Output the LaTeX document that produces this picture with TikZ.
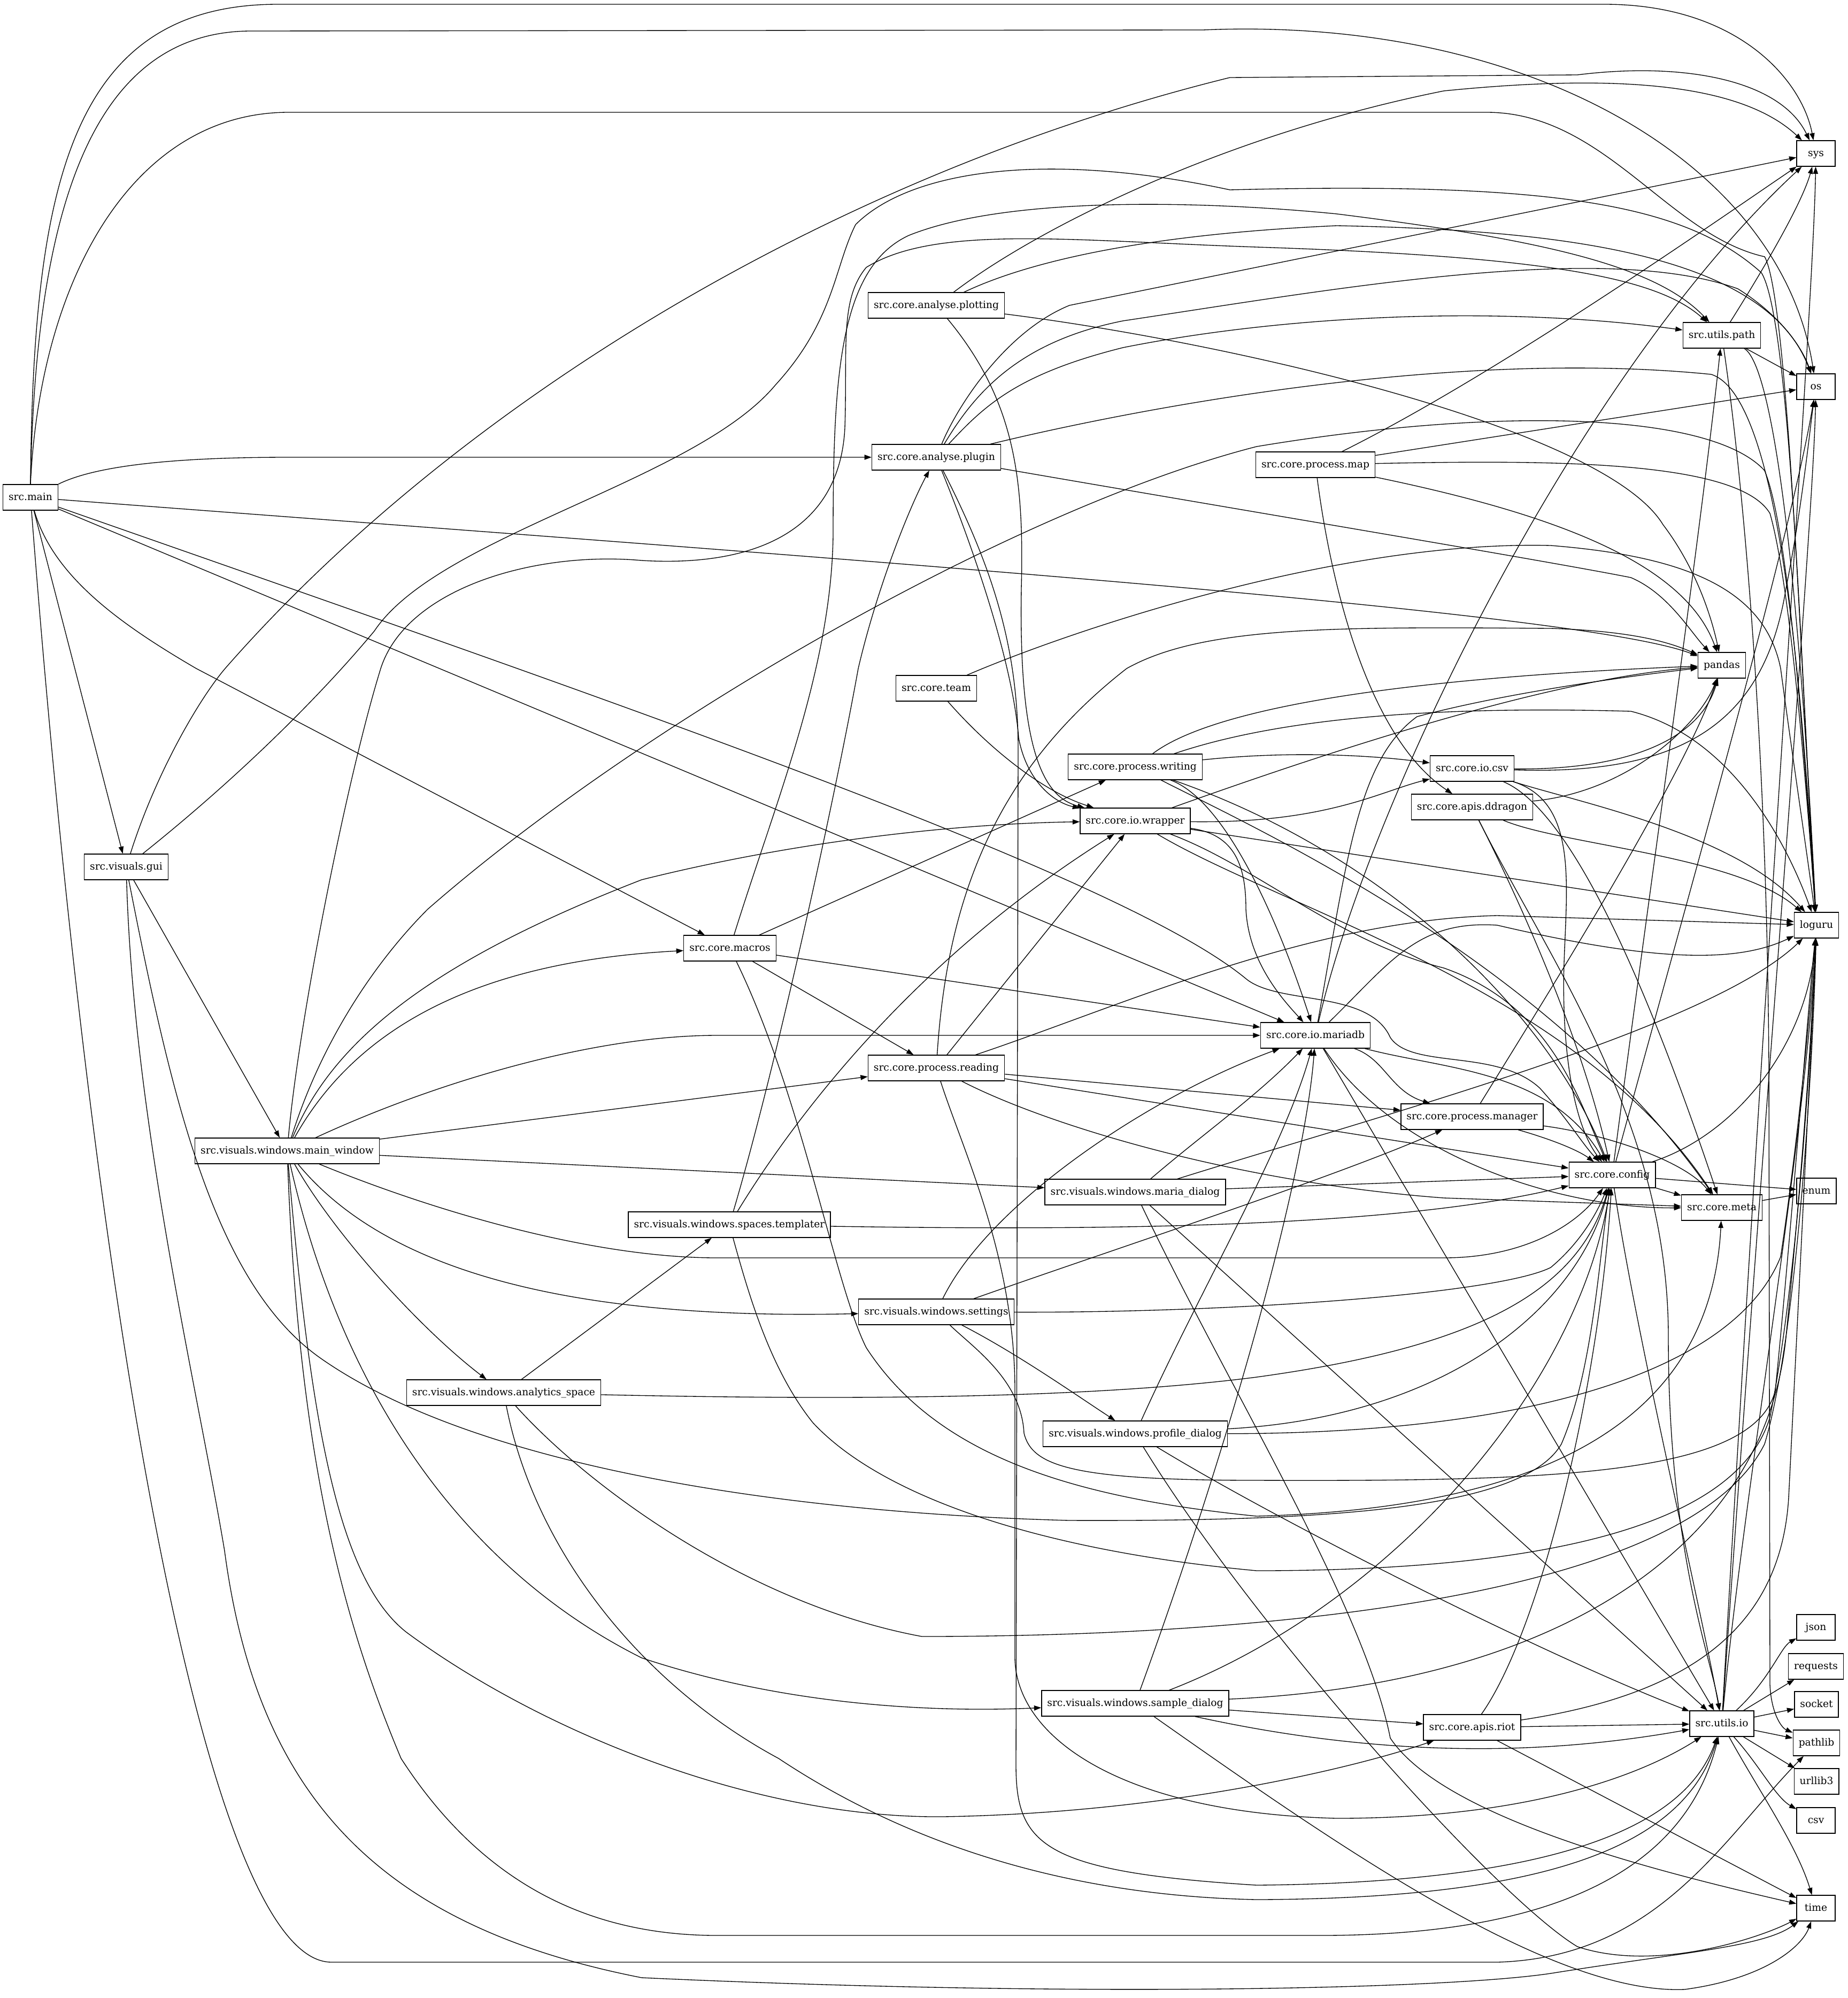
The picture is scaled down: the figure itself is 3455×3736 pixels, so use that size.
\documentclass[tikz,border=0pt]{standalone}
\usepackage{fontspec}
\setmainfont{DejaVu Serif}
\usetikzlibrary{arrows.meta}
\begin{document}
\begin{tikzpicture}[x=0.75pt,y=-0.75pt,
  mod/.style={draw, line width=1pt, rectangle, minimum height=36pt, minimum width=54pt,
    inner xsep=7.9pt, inner ysep=2pt, font=\fontsize{14pt}{17pt}\selectfont,
    text height=10.5pt, text depth=3pt},
  dep/.style={line width=1pt, -{Triangle[length=10pt,width=7pt]}}]
\fill[white] (0,0) rectangle (3455,3736);
\useasboundingbox (0,0) rectangle (3455,3736);
% nodes
\node[mod] (main) at (57,930) {src.main};
\node[mod] (gui) at (236,1621) {src.visuals.gui};
\node[mod] (mainwin) at (537,2152) {src.visuals.windows.main\_window};
\node[mod] (analytics) at (942,2604) {src.visuals.windows.analytics\_space};
\node[mod] (macros) at (1365,1773) {src.core.macros};
\node[mod] (templater) at (1364,2290) {src.visuals.windows.spaces.templater};
\node[mod] (plotting) at (1751,571) {src.core.analyse.plotting};
\node[mod] (plugin) at (1751,855) {src.core.analyse.plugin};
\node[mod] (team) at (1751,1287) {src.core.team};
\node[mod] (reading) at (1751,1997) {src.core.process.reading};
\node[mod] (settings) at (1751,2453) {src.visuals.windows.settings};
\node[mod] (writing) at (2123,1434) {src.core.process.writing};
\node[mod] (wrapper) at (2123,1535) {src.core.io.wrapper};
\node[mod] (maria) at (2123,2229) {src.visuals.windows.maria\_dialog};
\node[mod] (profile) at (2123,2681) {src.visuals.windows.profile\_dialog};
\node[mod] (sample) at (2123,3185) {src.visuals.windows.sample\_dialog};
\node[mod] (pmap) at (2460,869) {src.core.process.map};
\node[mod] (mariadb) at (2460,1936) {src.core.io.mariadb};
\node[mod] (iocsv) at (2753,1437) {src.core.io.csv};
\node[mod] (ddragon) at (2753,1509) {src.core.apis.ddragon};
\node[mod] (manager) at (2753,2088) {src.core.process.manager};
\node[mod] (riot) at (2753,3230) {src.core.apis.riot};
\node[mod] (config) at (3015,2197) {src.core.config};
\node[mod] (upath) at (3220,627) {src.utils.path};
\node[mod] (pandas) at (3220,1244) {pandas};
\node[mod] (meta) at (3220,2258) {src.core.meta};
\node[mod] (uio) at (3220,3223) {src.utils.io};
\node[mod] (sys) at (3396,287) {sys};
\node[mod] (os) at (3396,723) {os};
\node[mod] (loguru) at (3397,1730) {loguru};
\node[mod] (enum) at (3397,2227) {enum};
\node[mod] (json) at (3396,3043) {json};
\node[mod] (requests) at (3396,3116) {requests};
\node[mod] (socket) at (3397,3187) {socket};
\node[mod] (pathlib) at (3397,3259) {pathlib};
\node[mod] (urllib) at (3397,3331) {urllib3};
\node[mod] (csvmod) at (3396,3404) {csv};
\node[mod] (time) at (3396,3568) {time};
% src.main
\draw[dep] (main.north) .. controls (62,350) and (130,8) .. (520,8) -- (3000,8) .. controls (3250,8) and (3370,150) .. (sys);
\draw[dep] (main.north) .. controls (66,420) and (160,58) .. (470,58) -- (2250,56) .. controls (2850,30) and (3330,300) .. (os);
\draw[dep] (main.north) .. controls (75,520) and (250,210) .. (540,210) -- (2780,210) .. controls (3000,210) and (3120,440) .. (3300,480) .. controls (3345,560) and (3370,1300) .. (loguru);
\draw[dep] (main.north east) .. controls (180,870) and (330,855) .. (540,855) -- (plugin);
\draw[dep] (main) .. controls (1500,1040) and (2950,1140) .. (pandas);
\draw[dep] (main) -- (mariadb);
\draw[dep] (main) .. controls (1200,1330) and (2100,1640) .. (2330,1830) .. controls (2390,1880) and (2560,1850) .. (2600,1940) .. controls (2640,2000) and (2800,1960) .. (2880,2035) .. controls (2930,2090) and (2960,2140) .. (config);
\draw[dep] (main) .. controls (100,1080) and (230,1170) .. (367,1250) -- (macros);
\draw[dep] (main) -- (gui);
\draw[dep] (main) .. controls (170,2400) and (380,3669) .. (620,3669) -- (2800,3669) .. controls (3100,3660) and (3220,3440) .. (pathlib);
% gui
\draw[dep] (gui) .. controls (290,1450) and (370,1310) .. (421,1250) .. controls (850,760) and (1550,330) .. (2300,145) -- (2950,140) .. controls (3150,115) and (3330,150) .. (sys);
\draw[dep] (gui) .. controls (450,1450) and (600,1300) .. (700,1180) .. controls (820,1000) and (1300,900) .. (1450,720) .. controls (1560,600) and (1560,500) .. (1600,420) .. controls (1700,320) and (1950,280) .. (2300,355) .. controls (2900,340) and (3150,380) .. (3294,510) .. controls (3350,600) and (3370,1300) .. (loguru);
\draw[dep] (gui) -- (mainwin);
\draw[dep] (gui) .. controls (250,2100) and (370,2600) .. (420,2900) .. controls (480,3350) and (700,3600) .. (1200,3698) .. controls (2000,3735) and (2700,3720) .. (2900,3690) .. controls (3150,3650) and (3300,3640) .. (time);
\draw[dep] (gui) .. controls (320,2050) and (400,2400) .. (600,2540) .. controls (900,2750) and (1500,2830) .. (2000,2843) .. controls (2500,2845) and (2850,2820) .. (2920,2700) .. controls (2980,2560) and (2990,2350) .. (config);
% main_window
\draw[dep] (mainwin) .. controls (560,1900) and (650,1450) .. (712,1250) .. controls (760,1100) and (1000,1030) .. (1200,1048) .. controls (1400,1060) and (1570,1000) .. (1580,800) .. controls (1585,650) and (1570,560) .. (1620,500) .. controls (1750,420) and (2000,450) .. (2350,462) .. controls (2900,480) and (3100,520) .. (upath);
\draw[dep] (mainwin) .. controls (600,1950) and (700,1800) .. (800,1700) .. controls (1200,1350) and (1900,950) .. (2350,835) .. controls (2800,760) and (3200,770) .. (3300,880) .. controls (3350,1000) and (3380,1500) .. (loguru);
\draw[dep] (mainwin) .. controls (620,1950) and (800,1800) .. (1200,1645) .. controls (1500,1570) and (1800,1540) .. (wrapper);
\draw[dep] (mainwin) .. controls (650,1950) and (850,1800) .. (macros);
\draw[dep] (mainwin) .. controls (800,2030) and (1100,1936) .. (1341,1936) -- (mariadb);
\draw[dep] (mainwin) -- (reading);
\draw[dep] (mainwin) -- (maria);
\draw[dep] (mainwin) .. controls (800,2260) and (1100,2352) .. (1341,2352) -- (2700,2352) .. controls (2850,2352) and (2950,2290) .. (config);
\draw[dep] (mainwin) .. controls (700,2350) and (1000,2470) .. (settings);
\draw[dep] (mainwin) .. controls (620,2300) and (780,2480) .. (analytics);
\draw[dep] (mainwin) .. controls (650,2650) and (900,2950) .. (1200,3100) .. controls (1500,3200) and (1800,3200) .. (sample);
\draw[dep] (mainwin) .. controls (580,2650) and (630,2950) .. (760,3052) .. controls (1000,3230) and (1400,3400) .. (1762,3397) .. controls (2200,3390) and (2550,3300) .. (riot);
\draw[dep] (mainwin) .. controls (560,2750) and (650,3050) .. (750,3288) .. controls (900,3520) and (1100,3619) .. (1341,3619) -- (2469,3619) .. controls (2900,3619) and (3150,3500) .. (uio);
% analytics_space
\draw[dep] (analytics) -- (templater);
\draw[dep] (analytics) .. controls (1500,2616) and (2000,2620) .. (2350,2575) .. controls (2750,2520) and (2950,2420) .. (config);
\draw[dep] (analytics) .. controls (1100,2780) and (1400,3000) .. (1724,3060) .. controls (2300,3060) and (3150,3000) .. (3300,2700) .. controls (3360,2500) and (3390,2000) .. (loguru);
\draw[dep] (analytics) .. controls (1000,2900) and (1200,3150) .. (1456,3288) .. controls (1700,3450) and (2000,3545) .. (2350,3552) .. controls (2900,3550) and (3150,3450) .. (uio);
% templater
\draw[dep] (templater) .. controls (1450,2000) and (1560,1500) .. (1605,1250) .. controls (1640,1100) and (1700,950) .. (plugin);
\draw[dep] (templater) .. controls (1480,2100) and (1700,1800) .. (wrapper);
\draw[dep] (templater) .. controls (2000,2300) and (2600,2300) .. (config);
\draw[dep] (templater) .. controls (1400,2420) and (1440,2560) .. (1520,2660) .. controls (1650,2800) and (1950,2900) .. (2350,2937) .. controls (2900,2937) and (3250,2850) .. (3310,2650) .. controls (3360,2400) and (3385,2000) .. (loguru);
% macros
\draw[dep] (macros) .. controls (1450,1500) and (1555,1250) .. (1558,1000) .. controls (1558,700) and (1570,500) .. (1700,440) .. controls (1900,360) and (2300,380) .. (2500,400) .. controls (2900,450) and (3100,500) .. (upath);
\draw[dep] (macros) -- (writing);
\draw[dep] (macros) -- (reading);
\draw[dep] (macros) -- (mariadb);
\draw[dep] (macros) .. controls (1500,2050) and (1560,2400) .. (1620,2520) .. controls (1750,2720) and (2000,2800) .. (2350,2835) .. controls (2900,2820) and (3200,2650) .. (meta);
% plotting
\draw[dep] (plotting) .. controls (1950,420) and (2300,250) .. (2700,170) .. controls (3000,140) and (3250,150) .. (sys);
\draw[dep] (plotting) .. controls (1900,500) and (2100,440) .. (2500,422) .. controls (2900,430) and (3300,470) .. (os);
\draw[dep] (plotting) .. controls (2300,640) and (3000,800) .. (3110,981) .. controls (3170,1060) and (3200,1150) .. (pandas);
\draw[dep] (plotting) .. controls (1900,750) and (1915,900) .. (1910,1100) .. controls (1905,1400) and (1950,1490) .. (wrapper);
% plugin
\draw[dep] (plugin) .. controls (1790,760) and (1880,620) .. (2000,571) -- (sys);
\draw[dep] (plugin) .. controls (1820,740) and (1900,640) .. (2100,600) .. controls (2500,540) and (3000,450) .. (3250,540) .. controls (3330,590) and (3370,650) .. (os);
\draw[dep] (plugin) .. controls (1840,760) and (1900,700) .. (2100,650) .. controls (2400,590) and (2800,570) .. (upath);
\draw[dep] (plugin) .. controls (2100,770) and (2700,650) .. (3200,700) .. controls (3330,740) and (3370,1300) .. (loguru);
\draw[dep] (plugin) .. controls (2300,950) and (2900,1050) .. (3050,1080) .. controls (3120,1110) and (3160,1180) .. (pandas);
\draw[dep] (plugin) .. controls (1830,1050) and (1895,1250) .. (1905,1380) .. controls (1920,1460) and (1970,1500) .. (wrapper);
\draw[dep] (plugin) .. controls (1850,1050) and (1904,1200) .. (1904,1400) -- (1900,3300) .. controls (1900,3450) and (1950,3500) .. (2350,3525) .. controls (2900,3520) and (3150,3420) .. (uio);
% team
\draw[dep] (team) .. controls (1850,1400) and (1950,1480) .. (wrapper);
\draw[dep] (team) .. controls (2000,1180) and (2500,1010) .. (2900,1020) .. controls (3150,1040) and (3300,1100) .. (3330,1250) .. controls (3350,1400) and (3380,1600) .. (loguru);
% reading
\draw[dep] (reading) .. controls (1770,1700) and (1850,1450) .. (2107,1250) .. controls (2250,1170) and (2500,1172) .. (2900,1175) .. controls (3050,1180) and (3120,1200) .. (pandas);
\draw[dep] (reading) -- (wrapper);
\draw[dep] (reading) .. controls (2100,1880) and (2450,1720) .. (2800,1712) -- (loguru);
\draw[dep] (reading) -- (manager);
\draw[dep] (reading) -- (config);
\draw[dep] (reading) .. controls (1950,2100) and (2300,2210) .. (2700,2240) -- (meta);
\draw[dep] (reading) .. controls (1800,2150) and (1898,2350) .. (1898,2600) -- (1898,3100) .. controls (1900,3250) and (2100,3390) .. (2500,3400) .. controls (2900,3400) and (3100,3300) .. (uio);
% settings
\draw[dep] (settings) .. controls (1850,2250) and (2150,2050) .. (mariadb);
\draw[dep] (settings) .. controls (2100,2330) and (2500,2200) .. (manager);
\draw[dep] (settings) .. controls (2300,2455) and (2800,2420) .. (2900,2370) .. controls (2960,2320) and (2990,2260) .. (config);
\draw[dep] (settings) .. controls (1900,2530) and (2000,2600) .. (profile);
\draw[dep] (settings) .. controls (1820,2520) and (1910,2580) .. (1915,2680) .. controls (1930,2740) and (2000,2768) .. (2350,2768) .. controls (2900,2770) and (3280,2760) .. (3320,2600) .. controls (3350,2300) and (3380,1900) .. (loguru);
% writing
\draw[dep] (writing) .. controls (2400,1405) and (2550,1410) .. (iocsv);
\draw[dep] (writing) .. controls (2300,1300) and (2800,1260) .. (pandas);
\draw[dep] (writing) .. controls (2400,1340) and (2700,1320) .. (3050,1330) .. controls (3250,1380) and (3350,1600) .. (loguru);
\draw[dep] (writing) .. controls (2300,1500) and (2400,1750) .. (mariadb);
\draw[dep] (writing) .. controls (2600,1600) and (2900,1900) .. (config);
\draw[dep] (writing) .. controls (2350,1550) and (2900,1800) .. (meta);
% wrapper
\draw[dep] (wrapper) .. controls (2500,1400) and (2900,1270) .. (pandas);
\draw[dep] (wrapper) .. controls (2480,1540) and (2580,1480) .. (iocsv);
\draw[dep] (wrapper) -- (loguru);
\draw[dep] (wrapper) .. controls (2310,1560) and (2330,1620) .. (2330,1700) .. controls (2335,1800) and (2400,1870) .. (mariadb);
\draw[dep] (wrapper) .. controls (2350,1620) and (2500,1760) .. (2700,1810) .. controls (2900,1880) and (2950,2050) .. (config);
\draw[dep] (wrapper) .. controls (2400,1700) and (2950,1850) .. (meta);
% process.map
\draw[dep] (pmap) .. controls (2800,700) and (3200,420) .. (sys);
\draw[dep] (pmap) -- (os);
\draw[dep] (pmap) .. controls (2900,860) and (3250,860) .. (3310,960) .. controls (3350,1100) and (3380,1500) .. (loguru);
\draw[dep] (pmap) .. controls (2900,960) and (3150,1050) .. (pandas);
\draw[dep] (pmap) .. controls (2490,1100) and (2560,1380) .. (ddragon);
% mariadb
\draw[dep] (mariadb) .. controls (2560,1500) and (2950,700) .. (sys);
\draw[dep] (mariadb) .. controls (2520,1600) and (2540,1420) .. (2650,1340) .. controls (2800,1300) and (3000,1270) .. (pandas);
\draw[dep] (mariadb) .. controls (2600,1800) and (2650,1720) .. (2800,1730) .. controls (3100,1800) and (3250,1800) .. (loguru);
\draw[dep] (mariadb) .. controls (2590,1980) and (2600,2040) .. (manager);
\draw[dep] (mariadb) .. controls (2700,2000) and (2900,2000) .. (config);
\draw[dep] (mariadb) .. controls (2600,2150) and (2900,2260) .. (meta);
\draw[dep] (mariadb) -- (uio);
% io.csv
\draw[dep] (iocsv) .. controls (3050,1440) and (3180,1380) .. (pandas);
\draw[dep] (iocsv) .. controls (3150,1450) and (3300,1350) .. (3340,1100) .. controls (3370,950) and (3385,800) .. (os);
\draw[dep] (iocsv) .. controls (2950,1500) and (3250,1560) .. (loguru);
\draw[dep] (iocsv) .. controls (2950,1500) and (2930,1650) .. (2925,1800) .. controls (2920,1950) and (2940,2100) .. (config);
\draw[dep] (iocsv) .. controls (2950,1520) and (3100,1900) .. (meta);
% ddragon
\draw[dep] (ddragon) .. controls (3050,1480) and (3180,1350) .. (pandas);
\draw[dep] (ddragon) .. controls (2920,1580) and (3250,1600) .. (loguru);
\draw[dep] (ddragon) .. controls (2850,1700) and (2960,1950) .. (config);
\draw[dep] (ddragon) .. controls (2900,1800) and (3120,2100) .. (3120,2500) .. controls (3120,2900) and (3200,3100) .. (uio);
% manager
\draw[dep] (manager) .. controls (2900,1850) and (3150,1450) .. (pandas);
\draw[dep] (manager) .. controls (2900,2130) and (2950,2150) .. (config);
\draw[dep] (manager) .. controls (3000,2120) and (3150,2170) .. (meta);
% riot
\draw[dep] (riot) .. controls (2880,3050) and (2990,2600) .. (config);
\draw[dep] (riot) .. controls (3150,3170) and (3330,3050) .. (3345,2800) .. controls (3370,2300) and (3390,1900) .. (loguru);
\draw[dep] (riot) -- (uio);
\draw[dep] (riot) -- (time);
% utils.path
\draw[dep] (upath) .. controls (3300,500) and (3370,380) .. (sys);
\draw[dep] (upath) -- (os);
\draw[dep] (upath) .. controls (3310,680) and (3360,1000) .. (loguru);
\draw[dep] (upath) .. controls (3260,900) and (3305,1400) .. (3308,2000) -- (3310,3150) .. controls (3312,3200) and (3330,3230) .. (pathlib);
% config
\draw[dep] (config) .. controls (3080,1700) and (3180,1000) .. (upath);
\draw[dep] (config) .. controls (3150,1700) and (3350,1000) .. (os);
\draw[dep] (config) .. controls (3250,2120) and (3380,1950) .. (loguru);
\draw[dep] (config) -- (enum);
\draw[dep] (config) -- (meta);
\draw[dep] (config) .. controls (3060,2500) and (3180,3000) .. (uio);
% meta
\draw[dep] (meta) -- (enum);
% utils.io
\draw[dep] (uio) .. controls (3300,1800) and (3390,600) .. (sys);
\draw[dep] (uio) .. controls (3290,2200) and (3390,1000) .. (os);
\draw[dep] (uio) .. controls (3260,2800) and (3380,2100) .. (loguru);
\draw[dep] (uio) .. controls (3310,3140) and (3330,3080) .. (json);
\draw[dep] (uio) -- (requests);
\draw[dep] (uio) -- (socket);
\draw[dep] (uio) -- (pathlib);
\draw[dep] (uio) -- (urllib);
\draw[dep] (uio) .. controls (3290,3300) and (3320,3360) .. (csvmod);
\draw[dep] (uio) .. controls (3290,3350) and (3360,3450) .. (time);
% maria_dialog
\draw[dep] (maria) .. controls (2250,2120) and (2350,2050) .. (mariadb);
\draw[dep] (maria) .. controls (2600,2080) and (3200,1920) .. (loguru);
\draw[dep] (maria) -- (config);
\draw[dep] (maria) -- (uio);
\draw[dep] (maria) .. controls (2300,2600) and (2550,3000) .. (2600,3250) .. controls (2700,3400) and (3100,3500) .. (time);
% profile_dialog
\draw[dep] (profile) .. controls (2250,2400) and (2400,2150) .. (mariadb);
\draw[dep] (profile) .. controls (2700,2650) and (2950,2450) .. (config);
\draw[dep] (profile) .. controls (2900,2680) and (3250,2550) .. (3330,2350) .. controls (3360,2150) and (3385,1900) .. (loguru);
\draw[dep] (profile) .. controls (2400,2850) and (2900,3100) .. (uio);
\draw[dep] (profile) .. controls (2350,3050) and (2800,3550) .. (2950,3640) .. controls (3100,3690) and (3300,3620) .. (time);
% sample_dialog
\draw[dep] (sample) .. controls (2300,2700) and (2440,2200) .. (mariadb);
\draw[dep] (sample) .. controls (2600,3000) and (2950,2600) .. (config);
\draw[dep] (sample) .. controls (2900,3150) and (3300,2900) .. (3340,2500) .. controls (3370,2200) and (3390,1900) .. (loguru);
\draw[dep] (sample) -- (riot);
\draw[dep] (sample) .. controls (2600,3290) and (2900,3280) .. (uio);
\draw[dep] (sample) .. controls (2500,3450) and (2900,3730) .. (3150,3720) .. controls (3300,3700) and (3370,3640) .. (time);
\end{tikzpicture}
\end{document}
